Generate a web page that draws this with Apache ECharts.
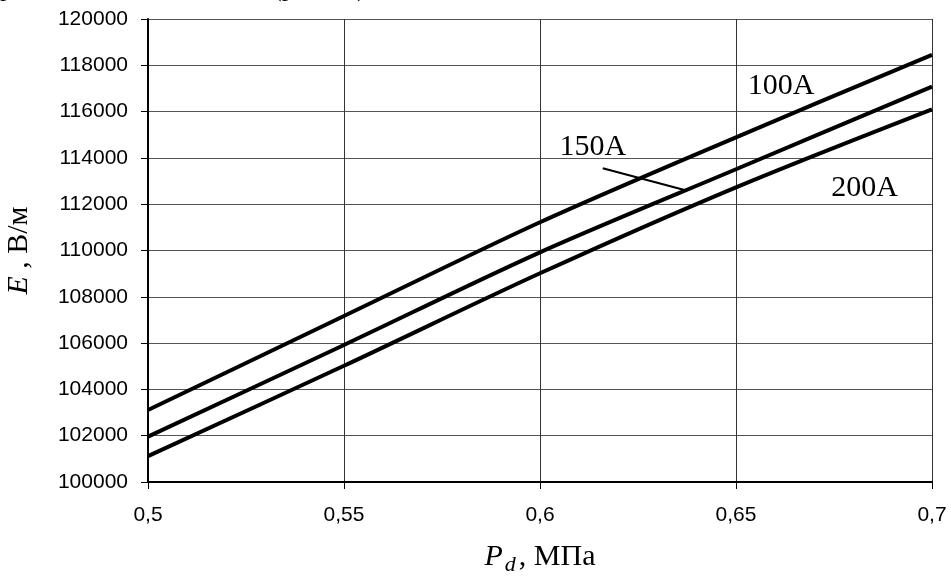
<!DOCTYPE html>
<html>
<head>
<meta charset="utf-8">
<script src="https://cdn.jsdelivr.net/npm/echarts@6/dist/echarts.min.js"></script>
<style>
html,body{margin:0;padding:0;background:#fff;}
#chart{width:951px;height:579px;}
</style>
</head>
<body>
<div id="chart"></div>
<script>
// Pressure P_d, MPa
var pressure = [0.5, 0.55, 0.6, 0.65, 0.7];
// Field strength E, V/m for each current
var e100A = [103110, 107170, 111220, 114890, 118450];
var e150A = [101960, 105920, 109920, 113510, 117080];
var e200A = [101120, 105020, 109015, 112730, 116100];
var seriesNames = ['100A', '150A', '200A'];
// Curve labels anchored in data coordinates [x, y]
var labelAt100 = [0.6615, 117080];
var labelAt150 = [0.6135, 114480];
var labelAt200 = [0.6828, 112680];
// Leader line from "150A" to its curve
var leader150 = [[0.6160, 113552], [0.6371, 112601]];

var yTicks = {min: 100000, max: 120000, step: 2000};
var xTicks = {min: 0.5, max: 0.7, step: 0.05};

function pairs(xs, ys) { return xs.map(function (x, i) { return [x, ys[i]]; }); }

var labelStyle = {fontFamily: 'Liberation Serif', fontSize: 30, color: '#000'};
function mp(name, at) {
  return {
    symbol: 'rect', symbolSize: 1, itemStyle: {color: 'rgba(0,0,0,0)'},
    label: Object.assign({show: true, position: 'inside', formatter: name}, labelStyle),
    data: [{coord: at}]
  };
}

var chart = echarts.init(document.getElementById('chart'));
var lineStyle = {color: '#000', width: 4};
chart.setOption({
  animation: false,
  backgroundColor: '#fff',
  grid: {left: 148, right: 19, top: 19, bottom: 97, containLabel: false, outerBoundsMode: 'none'},
  xAxis: {
    type: 'value', min: xTicks.min, max: xTicks.max, interval: xTicks.step,
    axisLine: {show: true, onZero: false, lineStyle: {color: '#000', width: 2}},
    axisTick: {show: true, inside: false, length: 7, lineStyle: {color: '#000', width: 1}},
    axisLabel: {
      margin: 23, fontFamily: 'Liberation Sans', fontSize: 21, color: '#000',
      formatter: function (v) { return String(parseFloat(v.toFixed(3))).replace('.', ','); }
    },
    splitLine: {show: true, lineStyle: {color: '#333', width: 1}},
    name: '{i|P}{s|d}{n|, МПа}',
    nameLocation: 'middle', nameGap: 58,
    nameTextStyle: {
      rich: {
        i: {fontFamily: 'Liberation Serif', fontStyle: 'italic', fontSize: 30, color: '#000', lineHeight: 34},
        s: {fontFamily: 'Liberation Serif', fontStyle: 'italic', fontSize: 22, color: '#000', lineHeight: 34, padding: [16, 3, 0, 2]},
        n: {fontFamily: 'Liberation Serif', fontSize: 30, color: '#000', lineHeight: 34}
      }
    }
  },
  yAxis: {
    type: 'value', min: yTicks.min, max: yTicks.max, interval: yTicks.step,
    axisLine: {show: true, onZero: false, lineStyle: {color: '#000', width: 2}},
    axisTick: {show: true, inside: false, length: 7, lineStyle: {color: '#000', width: 1}},
    axisLabel: {margin: 20, fontFamily: 'Liberation Sans', fontSize: 21, color: '#000',
      formatter: function (v) { return String(v); }},
    splitLine: {show: true, lineStyle: {color: '#555', width: 1}},
    name: '{i|E}{n| , В/м}',
    nameLocation: 'middle', nameGap: 114, nameRotate: 90,
    nameTextStyle: {
      rich: {
        i: {fontFamily: 'Liberation Serif', fontStyle: 'italic', fontSize: 30, color: '#000'},
        n: {fontFamily: 'Liberation Serif', fontSize: 30, color: '#000'}
      }
    }
  },
  series: [
    {name: seriesNames[0], type: 'line', smooth: 0.3, symbol: 'none', lineStyle: lineStyle,
     data: pairs(pressure, e100A), markPoint: mp('100A', labelAt100)},
    {name: seriesNames[1], type: 'line', smooth: 0.3, symbol: 'none', lineStyle: lineStyle,
     data: pairs(pressure, e150A), markPoint: mp('150A', labelAt150),
     markLine: {silent: true, symbol: 'none', label: {show: false},
       lineStyle: {color: '#000', width: 2, type: 'solid'},
       data: [[{coord: leader150[0]}, {coord: leader150[1]}]]}},
    {name: seriesNames[2], type: 'line', smooth: 0.3, symbol: 'none', lineStyle: lineStyle,
     data: pairs(pressure, e200A), markPoint: mp('200A', labelAt200)}
  ],
  graphic: [
    {type: 'text', left: 0, top: -24, style: {text: 'р', font: '26px "Liberation Serif"', fill: '#000'}},
    {type: 'text', left: 273, top: -24, style: {text: '(р', font: '26px "Liberation Serif"', fill: '#000'}},
    {type: 'text', left: 357, top: -24, style: {text: ')', font: '26px "Liberation Serif"', fill: '#000'}}
  ]
});
</script>
</body>
</html>
